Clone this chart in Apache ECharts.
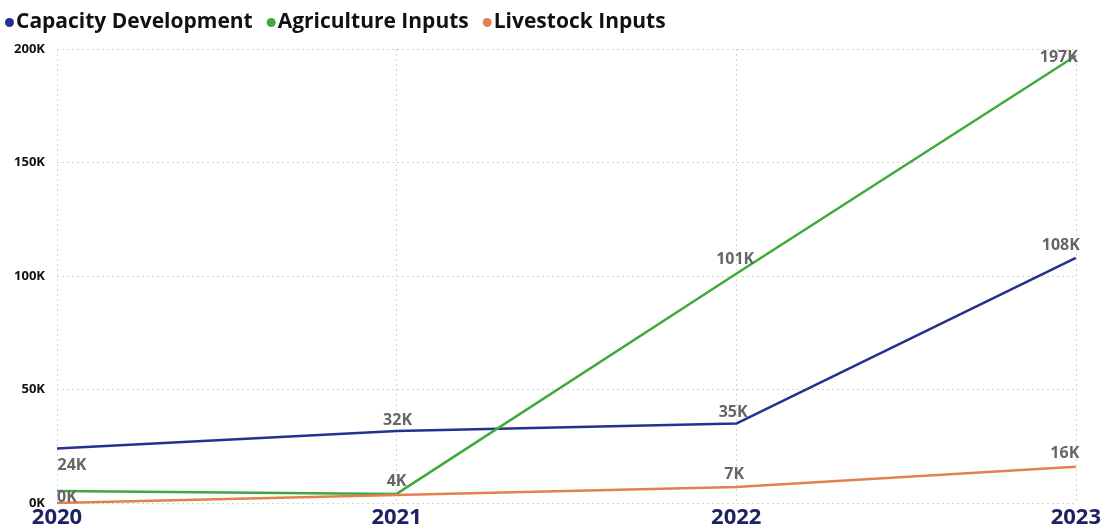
<!DOCTYPE html>
<html>
<head>
<meta charset="utf-8">
<script src="https://cdn.jsdelivr.net/npm/echarts@6/dist/echarts.min.js"></script>
<style>
  html, body { margin: 0; padding: 0; background: #fff; }
  #chart { width: 1104px; height: 530px; }
</style>
</head>
<body>
<div id="chart"></div>
<script>
// Yearly values (in units, shown as K)
const years = ['2020', '2021', '2022', '2023'];
const capacityDevelopment = [24000, 31700, 35000, 108000];
const agricultureInputs = [5300, 4000, 101000, 197000];
const livestockInputs = [0, 3500, 7000, 16000];
const yTicks = { min: 0, max: 200000, interval: 50000 };

// Label centre relative to its point (px), null = no label
const capacityLabels = [[15, 17], [1, -11], [-3, -11], [-15, -12]];
const agricultureLabels = [null, [0, -12], [-1, -14], [-17, 2]];
const livestockLabels = [[10, -6], null, [-2, -13], [-11, -13]];

const fmtK = v => Math.round(v / 1000) + 'K';

function buildData(values, labels) {
  return values.map((v, i) => {
    const l = labels[i];
    if (!l) return { value: v, label: { show: false } };
    return { value: v, label: { show: true, position: l } };
  });
}

const labelStyle = {
  show: true,
  align: 'center',
  verticalAlign: 'middle',
  color: '#666666',
  fontSize: 16,
  fontWeight: 'bold',
  fontFamily: 'Open Sans, sans-serif',
  formatter: p => fmtK(p.value)
};

function lineSeries(name, color, values, labels) {
  return {
    name,
    type: 'line',
    data: buildData(values, labels),
    showSymbol: true,
    symbol: 'circle',
    symbolSize: 0.1,
    lineStyle: { color, width: 2.5 },
    itemStyle: { color },
    label: labelStyle,
    labelLayout: { hideOverlap: false },
    emphasis: { disabled: true },
    animation: false
  };
}

const chart = echarts.init(document.getElementById('chart'), null, { renderer: 'canvas' });
chart.setOption({
  backgroundColor: '#ffffff',
  animation: false,
  legend: {
    left: 0,
    top: 7,
    icon: 'circle',
    itemWidth: 9,
    itemHeight: 9,
    itemGap: 14,
    textStyle: {
      fontSize: 21,
      fontWeight: 'bold',
      color: '#111111',
      fontFamily: 'Open Sans, sans-serif',
      padding: [0, 0, 0, -3]
    }
  },
  grid: { left: 57, right: 27, top: 49, bottom: 27, containLabel: false },
  xAxis: {
    type: 'category',
    data: years,
    boundaryGap: false,
    axisLine: { show: false },
    axisTick: { show: false },
    axisLabel: {
      margin: 4,
      color: '#1b2363',
      fontSize: 22,
      fontWeight: 'bold',
      fontFamily: 'Open Sans, sans-serif'
    },
    splitLine: { show: true, lineStyle: { color: '#d4d4d4', type: [2, 3], width: 1 } }
  },
  yAxis: {
    type: 'value',
    min: yTicks.min,
    max: yTicks.max,
    interval: yTicks.interval,
    axisLine: { show: false },
    axisTick: { show: false },
    axisLabel: {
      margin: 12,
      color: '#111111',
      fontSize: 13,
      fontWeight: 'bold',
      fontFamily: 'Open Sans, sans-serif',
      formatter: v => fmtK(v)
    },
    splitLine: { show: true, lineStyle: { color: '#d4d4d4', type: [2, 3], width: 1 } }
  },
  series: [
    lineSeries('Capacity Development', '#24318f', capacityDevelopment, capacityLabels),
    lineSeries('Agriculture Inputs', '#3daa3a', agricultureInputs, agricultureLabels),
    lineSeries('Livestock Inputs', '#e3804f', livestockInputs, livestockLabels)
  ]
});
</script>
</body>
</html>
